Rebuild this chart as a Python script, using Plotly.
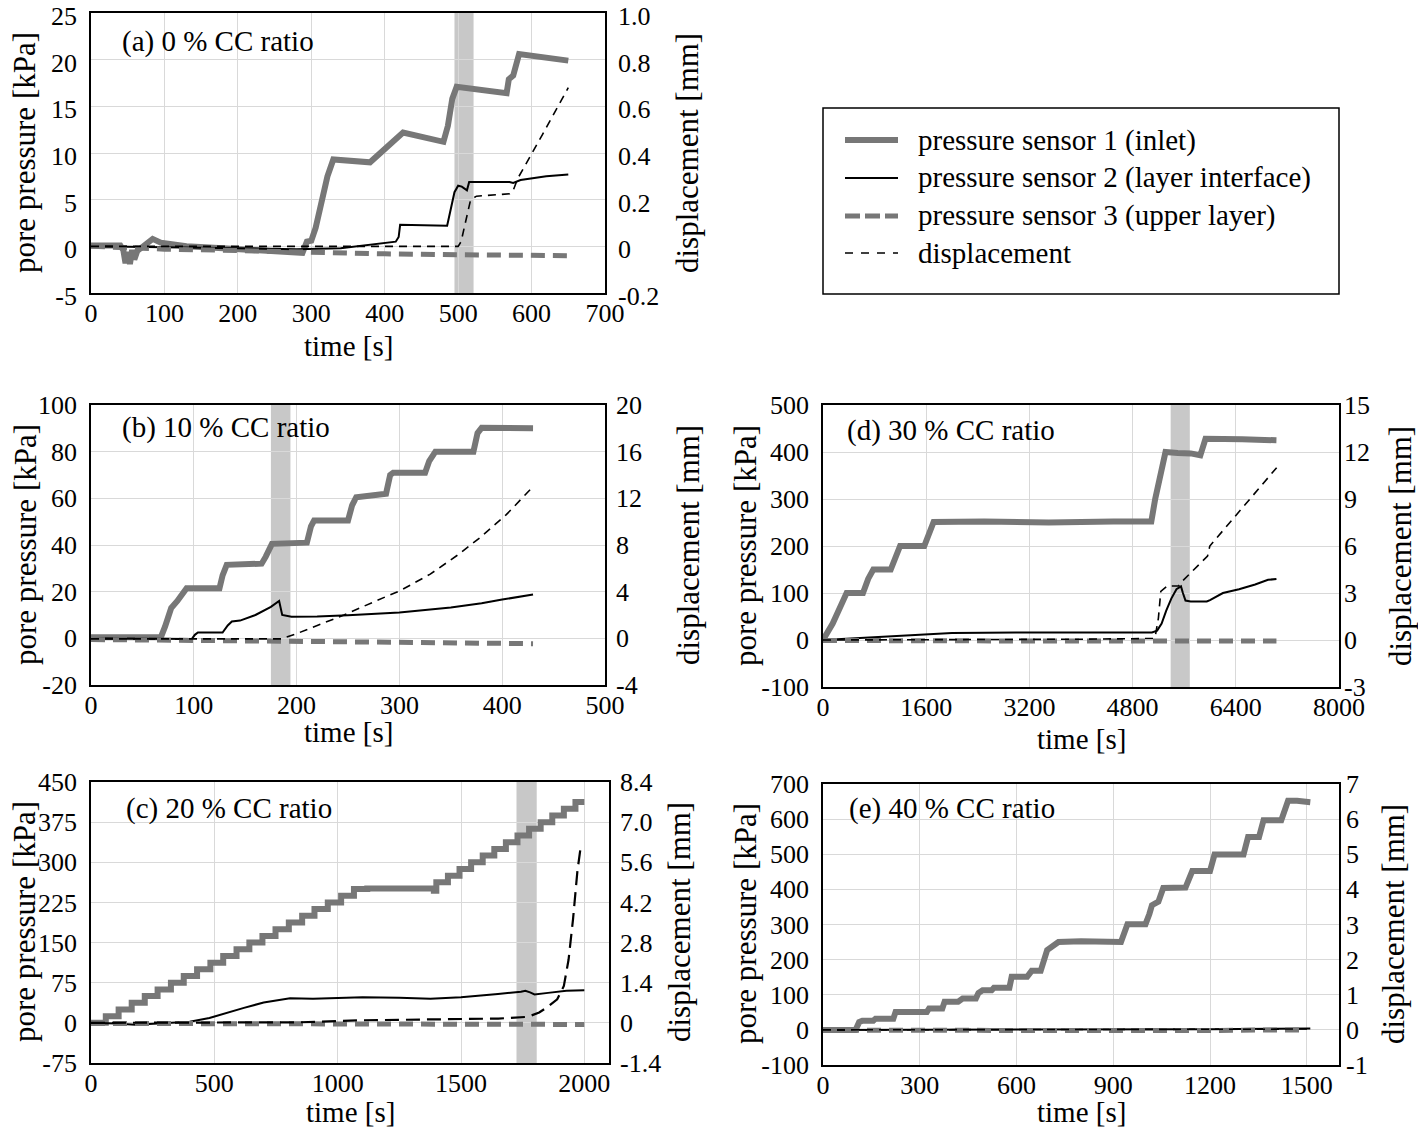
import plotly.graph_objects as go

W, H = 1418, 1128
FONT = "Liberation Serif"
GRAY = "#777777"
BAND = "#c8c8c8"
GRID = "#d9d9d9"

# ---------------- data ----------------
# (a) 0 % CC ratio
a_t1 = [0, 40, 44, 47, 50, 53, 56, 59, 63, 68, 75, 84, 95, 130, 180, 230, 270, 288, 294, 300, 306, 315, 322, 330, 380, 425, 480, 486, 492, 498, 566, 569, 575, 583, 650]
a_p1 = [0.1, 0.1, -0.4, -1.8, -0.6, -1.9, -0.4, -1.4, -0.5, -0.2, 0.3, 0.8, 0.4, 0.0, -0.2, -0.4, -0.6, -0.7, 0.5, 0.6, 2.0, 5.0, 7.5, 9.3, 9.0, 12.2, 11.2, 12.9, 15.8, 17.1, 16.4, 17.9, 18.3, 20.6, 19.9]
a_t2 = [0, 100, 200, 280, 340, 380, 415, 419, 421, 485, 490, 495, 500, 505, 512, 515, 570, 575, 585, 600, 620, 650]
a_p2 = [0.0, -0.1, -0.2, -0.3, -0.2, 0.2, 0.5, 1.0, 2.3, 2.2, 4.0, 5.8, 6.5, 6.4, 6.0, 6.9, 6.9, 6.8, 7.1, 7.3, 7.5, 7.7]
a_t3 = [0, 50, 100, 200, 300, 400, 500, 600, 650]
a_p3 = [0.0, -0.2, -0.3, -0.45, -0.65, -0.8, -0.9, -0.95, -1.0]
a_td = [0, 100, 200, 300, 400, 500, 504, 510, 517, 525, 570, 575, 581, 615, 650]
a_d = [0.0, 0.0, 0.0, 0.0, 0.0, 0.0, 0.02, 0.1, 0.2, 0.215, 0.225, 0.24, 0.29, 0.48, 0.68]
a_band = [495, 521]

# (b) 10 % CC ratio
b_t1 = [0, 68, 72, 78, 84, 90, 93, 125, 128, 132, 166, 170, 176, 210, 214, 217, 250, 254, 258, 287, 291, 294, 325, 329, 335, 372, 376, 380, 430]
b_p1 = [0.5, 0.5, 5, 13, 16, 20, 21.5, 21.5, 27, 31.5, 32, 35, 40.5, 41, 48, 50.5, 50.5, 57, 60.5, 62, 70, 71, 71, 76, 80, 80, 88, 90.2, 90]
b_t2 = [0, 50, 98, 101, 104, 128, 133, 137, 145, 160, 175, 183, 186, 195, 220, 250, 300, 350, 380, 400, 430]
b_p2 = [0, -0.3, -0.3, 1.5, 2.5, 2.5, 5.5, 7.2, 7.6, 10, 13.5, 16, 10, 9.3, 9.4, 9.9, 11.1, 13.2, 15.0, 16.6, 18.8]
b_t3 = [0, 50, 100, 150, 200, 250, 300, 350, 400, 430]
b_p3 = [-0.5, -0.6, -0.9, -1.1, -1.3, -1.5, -1.7, -1.9, -2.1, -2.3]
b_td = [0, 100, 185, 200, 220, 246, 277, 301, 330, 356, 378, 404, 430]
b_d = [-0.05, -0.08, -0.05, 0.4, 1.1, 2.0, 3.2, 4.1, 5.5, 7.1, 8.6, 10.6, 13.0]
b_band = [175, 194]

# (d) 30 % CC ratio
d_t1 = [0, 150, 366, 620, 700, 780, 1050, 1130, 1195, 1570, 1650, 1715, 2500, 3500, 4500, 5090, 5150, 5200, 5260, 5310, 5500, 5700, 5850, 5890, 5930, 6500, 7030]
d_p1 = [0, 35, 100, 100, 130, 150, 150, 180, 200, 200, 230, 251, 252, 250, 252, 252, 300, 330, 380, 400, 398, 397, 393, 410, 428, 427, 425]
d_t2 = [0, 400, 800, 1200, 1600, 2000, 3000, 4000, 5100, 5180, 5250, 5320, 5400, 5480, 5550, 5580, 5620, 5700, 5950, 6000, 6200, 6450, 6700, 6900, 7030]
d_p2 = [0, 3, 6, 10, 13, 15, 16, 16, 16, 20, 35, 62, 88, 108, 114, 100, 84, 82, 82, 85, 100, 108, 118, 128, 130]
d_t3 = [0, 1000, 2000, 3000, 4000, 5000, 6000, 7030]
d_p3 = [-1, -2, -2, -2, -2, -2, -2, -2]
d_td = [0, 2000, 4000, 5140, 5154, 5200, 5237, 5340, 5513, 5548, 5962, 5997, 7033]
d_d = [0, 0.02, 0.05, 0.1, 0.3, 1.4, 3.1, 3.45, 3.45, 3.66, 5.36, 6.0, 11.0]
d_band = [5390, 5687]

# (c) 20 % CC ratio  (sensor 1 is a staircase: time of each step and level reached)
c_t1 = [0, 60, 112, 165, 218, 270, 324, 376, 430, 484, 536, 590, 642, 695, 748, 802, 856, 906, 960, 1014, 1066, 1120, 1390, 1400, 1447, 1494, 1541, 1588, 1635, 1682, 1729, 1776, 1823, 1870, 1917, 1964, 2000]
c_p1 = [0, 12.5, 25, 37.5, 50, 62.5, 75, 87.5, 100, 112.5, 125, 137.5, 150, 162.5, 175, 187.5, 200, 212.5, 225, 237.5, 250, 251, 247, 262.5, 275, 287.5, 300, 312.5, 325, 337.5, 350, 362.5, 375, 387.5, 400, 412.5, 412.5]
c_t2 = [0, 100, 180, 260, 400, 480, 550, 620, 700, 771, 807, 900, 1000, 1101, 1250, 1376, 1500, 1560, 1650, 1743, 1761, 1780, 1798, 1853, 1927, 2000]
c_p2 = [0, -1, -3.5, -1, 2, 9, 19, 28, 38, 44, 46, 45, 46, 48, 47, 45, 48, 50, 54, 58, 60, 57, 53, 56, 60, 61]
c_t3 = [0, 500, 1000, 1500, 2000]
c_p3 = [-1, -2, -2.5, -2.5, -3]
c_td = [0, 400, 850, 1101, 1400, 1651, 1771, 1817, 1850, 1890, 1917, 1936, 1954, 1972, 1987]
c_d = [0, 0, 0.02, 0.09, 0.12, 0.15, 0.21, 0.36, 0.55, 0.82, 1.29, 2.2, 3.6, 5.3, 6.25]
c_band = [1725, 1807]

# (e) 40 % CC ratio
e_t1 = [0, 101, 112, 122, 156, 163, 218, 225, 322, 329, 370, 377, 419, 433, 474, 482, 495, 523, 530, 578, 585, 633, 647, 675, 695, 730, 800, 924, 944, 1000, 1012, 1020, 1040, 1055, 1124, 1145, 1200, 1214, 1304, 1318, 1352, 1366, 1421, 1442, 1470, 1511]
e_p1 = [0, 0, 22, 26, 26, 32, 32, 51, 51, 61, 61, 80, 80, 89, 89, 105, 113, 113, 120, 120, 151, 151, 168, 168, 227, 250, 252, 250, 301, 301, 330, 355, 365, 404, 405, 452, 452, 499, 499, 549, 549, 597, 597, 652, 652, 648]
e_t2 = [0, 300, 600, 900, 1200, 1400, 1511]
e_p2 = [0, 0, 1, 2, 2, 3, 4]
e_t3 = [0, 300, 600, 900, 1200, 1400, 1480]
e_p3 = [-1, -2, -2, -2, -2, 0, 0]
e_td = [0, 300, 600, 900, 1200, 1400, 1511]
e_d = [0, 0, 0, 0.01, 0.01, 0.02, 0.03]

# tick labels
a_xticks = [0, 100, 200, 300, 400, 500, 600, 700]
a_ylv = [-5, 0, 5, 10, 15, 20, 25]
a_ylt = ["-5", "0", "5", "10", "15", "20", "25"]
a_yrv = [-0.2, 0, 0.2, 0.4, 0.6, 0.8, 1.0]
a_yrt = ["-0.2", "0", "0.2", "0.4", "0.6", "0.8", "1.0"]

b_xticks = [0, 100, 200, 300, 400, 500]
b_ylv = [-20, 0, 20, 40, 60, 80, 100]
b_ylt = ["-20", "0", "20", "40", "60", "80", "100"]
b_yrv = [-4, 0, 4, 8, 12, 16, 20]
b_yrt = ["-4", "0", "4", "8", "12", "16", "20"]

d_xticks = [0, 1600, 3200, 4800, 6400, 8000]
d_ylv = [-100, 0, 100, 200, 300, 400, 500]
d_ylt = ["-100", "0", "100", "200", "300", "400", "500"]
d_yrv = [-3, 0, 3, 6, 9, 12, 15]
d_yrt = ["-3", "0", "3", "6", "9", "12", "15"]

c_xticks = [0, 500, 1000, 1500, 2000]
c_ylv = [-75, 0, 75, 150, 225, 300, 375, 450]
c_ylt = ["-75", "0", "75", "150", "225", "300", "375", "450"]
c_yrv = [-1.4, 0, 1.4, 2.8, 4.2, 5.6, 7.0, 8.4]
c_yrt = ["-1.4", "0", "1.4", "2.8", "4.2", "5.6", "7.0", "8.4"]

e_xticks = [0, 300, 600, 900, 1200, 1500]
e_ylv = [-100, 0, 100, 200, 300, 400, 500, 600, 700]
e_ylt = ["-100", "0", "100", "200", "300", "400", "500", "600", "700"]
e_yrv = [-1, 0, 1, 2, 3, 4, 5, 6, 7]
e_yrt = ["-1", "0", "1", "2", "3", "4", "5", "6", "7"]

legend_names = ["pressure sensor 1 (inlet)", "pressure sensor 2 (layer interface)",
                "pressure sensor 3 (upper layer)", "displacement"]
panel_titles = ["(a) 0 % CC ratio", "(b) 10 % CC ratio", "(d) 30 % CC ratio",
                "(c) 20 % CC ratio", "(e) 40 % CC ratio"]

# ---------------- layout helpers ----------------
def px(x):
    return x / W

def py(y):
    return 1 - y / H

def aid(letter, i):
    return letter if i == 1 else f"{letter}{i}"

STY1 = dict(color=GRAY, width=6)
STY2 = dict(color="black", width=2)
STY3 = dict(color=GRAY, width=5, dash="14px,8px")
STYD = dict(color="black", width=1.6, dash="8px,6px")

panels = [
    dict(box=(91, 605, 13, 293), xr=[0, 700], xt=a_xticks, yl=(a_ylv, a_ylt), yr=(a_yrv, a_yrt), rso=12, yshift=3,
         s1=(a_t1, a_p1, "linear"), s2=(a_t2, a_p2), s3=(a_t3, a_p3), d=(a_td, a_d), dsty=STYD, band=a_band,
         title=panel_titles[0], tpos=(120, 41), ylpos=(25, 153), yrpos=(688, 153), xtpos=(348, 346)),
    dict(box=(91, 605, 405, 685), xr=[0, 500], xt=b_xticks, yl=(b_ylv, b_ylt), yr=(b_yrv, b_yrt), rso=10, yshift=0,
         s1=(b_t1, b_p1, "linear"), s2=(b_t2, b_p2), s3=(b_t3, b_p3), d=(b_td, b_d), dsty=STYD, band=b_band,
         title=panel_titles[1], tpos=(120, 428), ylpos=(25, 545), yrpos=(688, 545), xtpos=(348, 732)),
    dict(box=(823, 1339, 405, 687), xr=[0, 8000], xt=d_xticks, yl=(d_ylv, d_ylt), yr=(d_yrv, d_yrt), rso=4, yshift=0,
         s1=(d_t1, d_p1, "linear"), s2=(d_t2, d_p2), s3=(d_t3, d_p3), d=(d_td, d_d), dsty=STYD, band=d_band,
         title=panel_titles[2], tpos=(845, 430), ylpos=(745, 546), yrpos=(1400, 546), xtpos=(1081, 739)),
    dict(box=(91, 609, 782, 1063), xr=[0, 2100], xt=c_xticks, yl=(c_ylv, c_ylt), yr=(c_yrv, c_yrt), rso=10, yshift=0,
         s1=(c_t1, c_p1, "hv"), s2=(c_t2, c_p2), s3=(c_t3, c_p3), d=(c_td, c_d),
         dsty=dict(color="black", width=2.2, dash="14px,7px"), band=c_band,
         title=panel_titles[3], tpos=(124, 808), ylpos=(24, 922), yrpos=(679, 922), xtpos=(350, 1112)),
    dict(box=(823, 1339, 784, 1065), xr=[0, 1600], xt=e_xticks, yl=(e_ylv, e_ylt), yr=(e_yrv, e_yrt), rso=6, yshift=0,
         s1=(e_t1, e_p1, "linear"), s2=(e_t2, e_p2), s3=(e_t3, e_p3), d=(e_td, e_d), dsty=STYD, band=None,
         title=panel_titles[4], tpos=(847, 808), ylpos=(745, 924), yrpos=(1393, 924), xtpos=(1081, 1112)),
]

fig = go.Figure()
layout = dict(width=W, height=H, margin=dict(l=0, r=0, t=0, b=0, autoexpand=False),
              paper_bgcolor="white", plot_bgcolor="white", showlegend=False,
              font=dict(family=FONT, size=26, color="black"))
shapes = []
annotations = []
tickfont = dict(family=FONT, size=26, color="black")
tfont = dict(family=FONT, size=29, color="black")
yfont = dict(family=FONT, size=31, color="black")

for n, p in enumerate(panels, start=1):
    x0, x1, y0, y1 = p["box"]
    xa, yl, yr = aid("x", n), aid("y", 2 * n - 1), aid("y", 2 * n)
    layout[aid("xaxis", n)] = dict(
        domain=[px(x0), px(x1)], anchor=yl, range=p["xr"], tickvals=p["xt"],
        showgrid=True, gridcolor=GRID, gridwidth=1.3, zeroline=False,
        showline=True, linecolor="black", linewidth=1.6, mirror=True, ticks="",
        tickfont=tickfont, ticklabelstandoff=-4, ticklabeloverflow="allow")
    layout[aid("yaxis", 2 * n - 1)] = dict(
        domain=[py(y1), py(y0)], anchor=xa, range=[p["yl"][0][0], p["yl"][0][-1]],
        tickvals=p["yl"][0], ticktext=p["yl"][1],
        showgrid=True, gridcolor=GRID, gridwidth=1.3, zeroline=False,
        showline=True, linecolor="black", linewidth=1.6, mirror=True, ticks="",
        tickfont=tickfont, ticklabelstandoff=7, ticklabelshift=p["yshift"], ticklabeloverflow="allow")
    layout[aid("yaxis", 2 * n)] = dict(
        overlaying=yl, side="right", anchor=xa, range=[p["yr"][0][0], p["yr"][0][-1]],
        tickvals=p["yr"][0], ticktext=p["yr"][1],
        showgrid=False, zeroline=False, showline=False, ticks="",
        tickfont=tickfont, ticklabelstandoff=p["rso"], ticklabelshift=p["yshift"], ticklabeloverflow="allow")

    t1, v1, shp = p["s1"]
    fig.add_trace(go.Scatter(x=t1, y=v1, mode="lines", line=dict(STY1, shape=shp),
                             name=legend_names[0], xaxis=xa, yaxis=yl))
    fig.add_trace(go.Scatter(x=p["s2"][0], y=p["s2"][1], mode="lines", line=STY2,
                             name=legend_names[1], xaxis=xa, yaxis=yl))
    fig.add_trace(go.Scatter(x=p["s3"][0], y=p["s3"][1], mode="lines", line=STY3,
                             name=legend_names[2], xaxis=xa, yaxis=yl))
    fig.add_trace(go.Scatter(x=p["d"][0], y=p["d"][1], mode="lines", line=p["dsty"],
                             name=legend_names[3], xaxis=xa, yaxis=yr))

    if p["band"] is not None:
        shapes.append(dict(type="rect", xref=xa, yref="paper", x0=p["band"][0], x1=p["band"][1],
                           y0=py(y1), y1=py(y0), fillcolor=BAND, line=dict(width=0), layer="below"))

    annotations.append(dict(text=p["title"], xref="paper", yref="paper", x=px(p["tpos"][0]), y=py(p["tpos"][1]),
                            xanchor="left", yanchor="middle", showarrow=False, font=tfont))
    annotations.append(dict(text="pore pressure [kPa]", xref="paper", yref="paper",
                            x=px(p["ylpos"][0]), y=py(p["ylpos"][1]), textangle=-90,
                            xanchor="center", yanchor="middle", showarrow=False, font=yfont))
    annotations.append(dict(text="displacement [mm]", xref="paper", yref="paper",
                            x=px(p["yrpos"][0]), y=py(p["yrpos"][1]), textangle=-90,
                            xanchor="center", yanchor="middle", showarrow=False, font=yfont))
    annotations.append(dict(text="time [s]", xref="paper", yref="paper",
                            x=px(p["xtpos"][0]), y=py(p["xtpos"][1]),
                            xanchor="center", yanchor="middle", showarrow=False, font=tfont))

# ---------------- legend box (drawn) ----------------
shapes.append(dict(type="rect", xref="paper", yref="paper", x0=px(823), x1=px(1339), y0=py(294), y1=py(108),
                   line=dict(color="black", width=1.5)))
leg_rows = [140, 178, 216, 253]
leg_styles = [STY1, STY2, dict(color=GRAY, width=5, dash="15px,5px"), dict(color="black", width=1.6, dash="8px,8px")]
for row, sty, name in zip(leg_rows, leg_styles, legend_names):
    shapes.append(dict(type="line", xref="paper", yref="paper", x0=px(845), x1=px(898), y0=py(row), y1=py(row),
                       line=sty))
    annotations.append(dict(text=name, xref="paper", yref="paper", x=px(916), y=py(row),
                            xanchor="left", yanchor="middle", showarrow=False, font=tfont))

layout["shapes"] = shapes
layout["annotations"] = annotations
fig.update_layout(**layout)
fig.write_html("out.html", config={"displayModeBar": False},
               post_script="document.body.style.margin='0';document.body.style.overflow='hidden';")
